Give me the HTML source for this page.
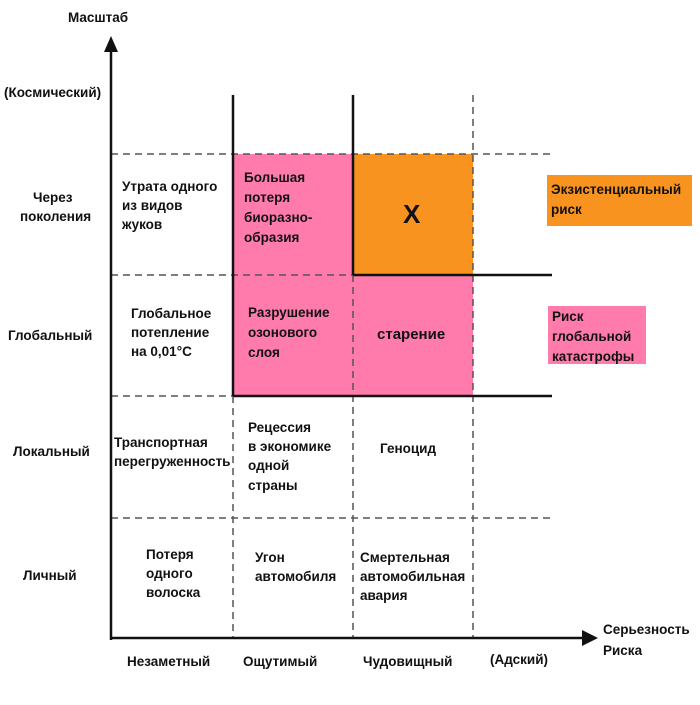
<!DOCTYPE html>
<html><head><meta charset="utf-8"><style>
body{margin:0;background:#fff}
svg text{font-family:"Liberation Sans",sans-serif;font-weight:bold;font-size:13.5px;fill:#111}
</style></head><body>
<svg width="700" height="700" viewBox="0 0 700 700" xmlns="http://www.w3.org/2000/svg">
<rect x="233" y="154" width="240" height="242" fill="#ff7bac"/>
<rect x="353" y="154" width="120" height="121" fill="#f7931e"/>
<rect x="547" y="175" width="145" height="51" fill="#f7931e"/>
<rect x="548" y="306" width="98" height="58" fill="#ff7bac"/>
<g stroke="#555" stroke-width="1.5" stroke-dasharray="7,5" fill="none">
<line x1="111" y1="154" x2="552" y2="154"/>
<line x1="111" y1="275" x2="353" y2="275"/>
<line x1="111" y1="396" x2="233" y2="396"/>
<line x1="111" y1="518" x2="552" y2="518"/>
<line x1="473" y1="95" x2="473" y2="638"/>
<line x1="233" y1="396" x2="233" y2="638"/>
<line x1="353" y1="275" x2="353" y2="638"/>
</g>
<g stroke="#111" stroke-width="2.5" fill="none">
<line x1="233" y1="95" x2="233" y2="396"/>
<line x1="353" y1="95" x2="353" y2="275"/>
<line x1="353" y1="275" x2="552" y2="275"/>
<line x1="233" y1="396" x2="552" y2="396"/>
<line x1="111" y1="50" x2="111" y2="640"/>
<line x1="110" y1="638" x2="585" y2="638"/>
</g>
<polygon points="104,52 111,36 118,52" fill="#111"/>
<polygon points="582,630 598,638 582,646" fill="#111"/>
<text x="68" y="22">Масштаб</text>
<text x="4" y="97">(Космический)</text>
<text x="33" y="202">Через</text>
<text x="20" y="221">поколения</text>
<text x="8" y="340">Глобальный</text>
<text x="13" y="456">Локальный</text>
<text x="23" y="580">Личный</text>
<text x="127" y="666">Незаметный</text>
<text x="243" y="666">Ощутимый</text>
<text x="363" y="666">Чудовищный</text>
<text x="490" y="664">(Адский)</text>
<text x="603" y="634">Серьезность</text>
<text x="603" y="655">Риска</text>
<text x="122" y="191">Утрата одного</text>
<text x="122" y="210">из видов</text>
<text x="122" y="229">жуков</text>
<text x="244" y="182">Большая</text>
<text x="244" y="202">потеря</text>
<text x="244" y="222">биоразно-</text>
<text x="244" y="242">образия</text>
<text x="403" y="223" style="font-size:26px">X</text>
<text x="377" y="339" style="font-size:15px">старение</text>
<text x="131" y="318">Глобальное</text>
<text x="131" y="337">потепление</text>
<text x="131" y="356">на 0,01°С</text>
<text x="248" y="317">Разрушение</text>
<text x="248" y="337">озонового</text>
<text x="248" y="357">слоя</text>
<text x="551" y="194">Экзистенциальный</text>
<text x="551" y="214">риск</text>
<text x="552" y="321">Риск</text>
<text x="552" y="341">глобальной</text>
<text x="552" y="361">катастрофы</text>
<text x="114" y="447">Транспортная</text>
<text x="114" y="466">перегруженность</text>
<text x="248" y="432">Рецессия</text>
<text x="248" y="451">в экономике</text>
<text x="248" y="470">одной</text>
<text x="248" y="490">страны</text>
<text x="380" y="453">Геноцид</text>
<text x="146" y="559">Потеря</text>
<text x="146" y="578">одного</text>
<text x="146" y="597">волоска</text>
<text x="255" y="562">Угон</text>
<text x="255" y="581">автомобиля</text>
<text x="360" y="562">Смертельная</text>
<text x="360" y="581">автомобильная</text>
<text x="360" y="600">авария</text>
</svg>
</body></html>
